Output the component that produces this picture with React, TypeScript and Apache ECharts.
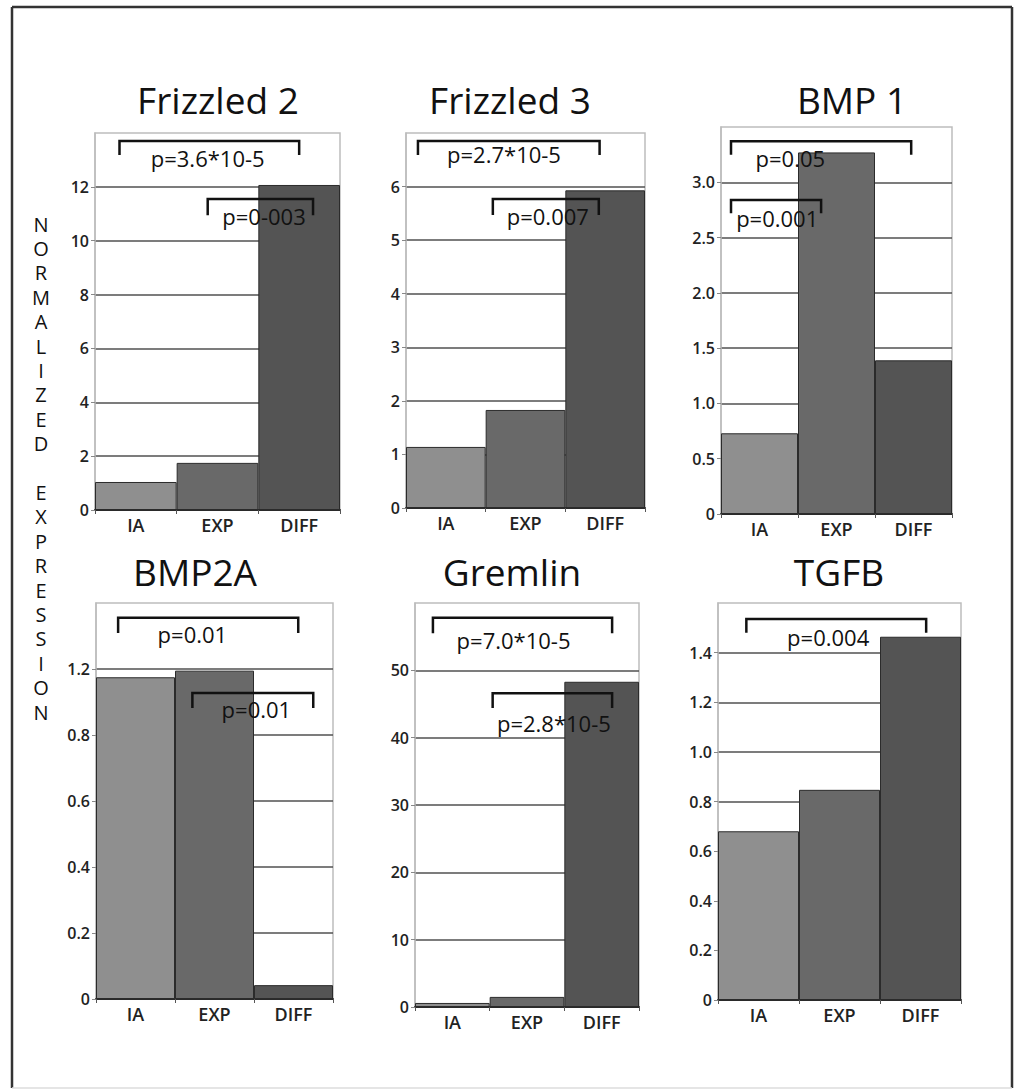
import React, { useEffect, useRef } from "react";
import * as echarts from "echarts";

// ---------- data ----------
const categories = ["IA", "EXP", "DIFF"];
const panelTitles = ["Frizzled 2", "Frizzled 3", "BMP 1", "BMP2A", "Gremlin", "TGFB"];
const yAxisTitle = "NORMALIZED EXPRESSION";

const frizzled2Values = [1.04, 1.75, 12.07];
const frizzled3Values = [1.14, 1.83, 5.93];
const bmp1Values = [0.73, 3.27, 1.39];
const bmp2aValues = [0.975, 0.995, 0.042];
const gremlinValues = [0.6, 1.5, 48.3];
const tgfbValues = [0.68, 0.847, 1.464];

const frizzled2Ticks = ["0", "2", "4", "6", "8", "10", "12", ""];
const frizzled3Ticks = ["0", "1", "2", "3", "4", "5", "6", ""];
const bmp1Ticks = ["0", "0.5", "1.0", "1.5", "2.0", "2.5", "3.0", ""];
const bmp2aTicks = ["0", "0.2", "0.4", "0.6", "0.8", "1.2", ""];
const gremlinTicks = ["0", "10", "20", "30", "40", "50", ""];
const tgfbTicks = ["0", "0.2", "0.4", "0.6", "0.8", "1.0", "1.2", "1.4", ""];

const axisMax = [14, 7, 3.5, 1.2, 60, 1.6];
const axisStep = [2, 1, 0.5, 0.2, 10, 0.2];

// significance brackets: from/to/textAt in category units (0 = IA centre), top/leg/textY in axis units
const frizzled2Brackets = [
  { from: -0.2, to: 2.0, top: 13.7, leg: 13.18, text: "p=3.6*10-5", textAt: 0.88, textY: 13.07 },
  { from: 0.88, to: 2.17, top: 11.55, leg: 10.95, text: "p=0-003", textAt: 1.57, textY: 10.92 },
];
const frizzled3Brackets = [
  { from: -0.35, to: 1.93, top: 6.85, leg: 6.59, text: "p=2.7*10-5", textAt: 0.73, textY: 6.61 },
  { from: 0.59, to: 1.92, top: 5.77, leg: 5.47, text: "p=0.007", textAt: 1.28, textY: 5.45 },
];
const bmp1Brackets = [
  { from: -0.37, to: 1.97, top: 3.37, leg: 3.25, text: "p=0.05", textAt: 0.4, textY: 3.22 },
  { from: -0.37, to: 0.8, top: 2.84, leg: 2.72, text: "p=0.001", textAt: 0.23, textY: 2.68 },
];
const bmp2aBrackets = [
  { from: -0.22, to: 2.06, top: 1.155, leg: 1.109, text: "p=0.01", textAt: 0.72, textY: 1.106 },
  { from: 0.72, to: 2.25, top: 0.927, leg: 0.882, text: "p=0.01", textAt: 1.53, textY: 0.879 },
];
const gremlinBrackets = [
  { from: -0.26, to: 2.14, top: 57.8, leg: 55.5, text: "p=7.0*10-5", textAt: 0.82, textY: 54.5 },
  { from: 0.54, to: 2.14, top: 46.6, leg: 44.4, text: "p=2.8*10-5", textAt: 1.36, textY: 42.2 },
];
const tgfbBrackets = [
  { from: -0.15, to: 2.07, top: 1.536, leg: 1.48, text: "p=0.004", textAt: 0.86, textY: 1.464 },
];

const panelValues = [frizzled2Values, frizzled3Values, bmp1Values, bmp2aValues, gremlinValues, tgfbValues];
const panelTicks = [frizzled2Ticks, frizzled3Ticks, bmp1Ticks, bmp2aTicks, gremlinTicks, tgfbTicks];
const panelBrackets = [frizzled2Brackets, frizzled3Brackets, bmp1Brackets, bmp2aBrackets, gremlinBrackets, tgfbBrackets];

// ---------- layout / style ----------
const gridBoxes = [
  { left: 95, top: 133, width: 245, height: 377 },
  { left: 406, top: 133, width: 239, height: 375 },
  { left: 721, top: 127, width: 231, height: 387 },
  { left: 96, top: 603, width: 237, height: 396 },
  { left: 415, top: 603, width: 224, height: 404 },
  { left: 718, top: 603, width: 243, height: 397 },
];
const titlePos = [
  [218, 99], [510, 99], [852, 99],
  [195, 571], [512, 571], [839, 571],
];
const barColors = ["#8f8f8f", "#696969", "#545454"];
const FONT = "'Open Sans', 'Noto Sans', sans-serif";

export default function App() {
  const ref = useRef<HTMLDivElement>(null);

  useEffect(() => {
    document.body.style.margin = "0";
    if (!ref.current) return;
    const chart = echarts.init(ref.current, null, { renderer: "svg" });

    const grids = gridBoxes.map((g) => ({
      ...g,
      show: true,
      borderColor: "#bdbdbd",
      borderWidth: 1.5,
      backgroundColor: "#fff",
    }));

    const xAxes = gridBoxes.map((_, i) => ({
      type: "category",
      gridIndex: i,
      data: categories,
      axisLine: { show: true, lineStyle: { color: "#2a2a2a", width: 2 } },
      axisTick: { show: true, length: 4, lineStyle: { color: "#555" } },
      axisLabel: { color: "#222", fontSize: 18, fontWeight: 600, fontFamily: FONT, margin: 6 },
      splitLine: { show: false },
    }));

    const yAxes = gridBoxes.map((_, i) => ({
      type: "value",
      gridIndex: i,
      min: 0,
      max: axisMax[i],
      interval: axisStep[i],
      axisLine: { show: true, lineStyle: { color: "#bdbdbd", width: 1.5 } },
      axisTick: { show: true, length: 4, lineStyle: { color: "#888" } },
      axisLabel: {
        color: "#222",
        fontSize: 16,
        fontWeight: 600,
        fontFamily: FONT,
        margin: 6,
        showMaxLabel: false,
        formatter: (_v: number, idx: number) => panelTicks[i][idx] ?? "",
      },
      splitLine: { show: true, showMaxLine: false, showMinLine: false, lineStyle: { color: "#505050", width: 1.6 } },
    }));

    const barSeries = panelValues.map((vals, i) => ({
      type: "bar",
      xAxisIndex: i,
      yAxisIndex: i,
      barCategoryGap: "0%",
      data: vals.map((v, j) => ({ value: v, itemStyle: { color: barColors[j] } })),
      itemStyle: { borderColor: "#2b2b2b", borderWidth: 1 },
      z: 2,
    }));

    const bracketSeries = panelBrackets.map((brs, i) => ({
      type: "custom",
      xAxisIndex: i,
      yAxisIndex: i,
      silent: true,
      z: 5,
      data: brs.map((b) => [0, b.top]),
      renderItem: (params: any, api: any) => {
        const b = brs[params.dataIndex];
        const c0 = api.coord([0, b.top]);
        const c1 = api.coord([1, b.top]);
        const band = c1[0] - c0[0];
        const xAt = (u: number) => c0[0] + u * band;
        const yAt = (v: number) => api.coord([0, v])[1];
        return {
          type: "group",
          children: [
            {
              type: "polyline",
              shape: {
                points: [
                  [xAt(b.from), yAt(b.leg)],
                  [xAt(b.from), yAt(b.top)],
                  [xAt(b.to), yAt(b.top)],
                  [xAt(b.to), yAt(b.leg)],
                ],
              },
              style: { fill: "none", stroke: "#111", lineWidth: 2.5 },
            },
            {
              type: "text",
              x: xAt(b.textAt),
              y: yAt(b.textY),
              style: {
                text: b.text,
                fill: "#111",
                fontSize: 22,
                fontFamily: FONT,
                align: "center",
                verticalAlign: "middle",
                textAlign: "center",
                textVerticalAlign: "middle",
              },
            },
          ],
        };
      },
    }));

    const titleGraphics = panelTitles.map((t, i) => ({
      type: "text",
      x: titlePos[i][0],
      y: titlePos[i][1],
      style: {
        text: t,
        fill: "#111",
        fontSize: 37,
        fontFamily: FONT,
        align: "center",
        verticalAlign: "middle",
        textAlign: "center",
        textVerticalAlign: "middle",
      },
    }));

    const vertical = yAxisTitle.split("").join("\n");

    chart.setOption({
      animation: false,
      backgroundColor: "#fff",
      grid: grids,
      xAxis: xAxes,
      yAxis: yAxes,
      series: [...barSeries, ...bracketSeries],
      graphic: [
        { type: "line", shape: { x1: 12, y1: 7, x2: 1012, y2: 7 }, style: { stroke: "#333", lineWidth: 2.5 } },
        { type: "line", shape: { x1: 12, y1: 7, x2: 12, y2: 1088 }, style: { stroke: "#333", lineWidth: 2.5 } },
        { type: "line", shape: { x1: 1012, y1: 7, x2: 1012, y2: 1088 }, style: { stroke: "#333", lineWidth: 2.5 } },
        { type: "line", shape: { x1: 12, y1: 1088, x2: 1012, y2: 1088 }, style: { stroke: "#ddd", lineWidth: 1.5 } },
        ...titleGraphics,
        {
          type: "text",
          x: 41,
          y: 468,
          style: {
            text: vertical,
            fill: "#111",
            fontSize: 20,
            lineHeight: 24.4,
            fontFamily: FONT,
            align: "center",
            verticalAlign: "middle",
            textAlign: "center",
            textVerticalAlign: "middle",
          },
        },
      ],
    });

    return () => chart.dispose();
  }, []);

  return <div ref={ref} style={{ width: 1016, height: 1092 }} />;
}
